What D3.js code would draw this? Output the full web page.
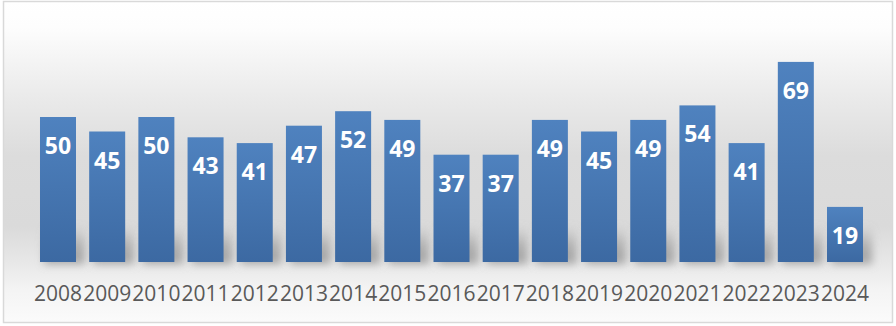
<!DOCTYPE html>
<html>
<head>
<meta charset="utf-8">
<script src="https://cdn.jsdelivr.net/npm/d3@7"></script>
<style>
  html, body { margin: 0; padding: 0; background: #fff; }
  svg { display: block; }
</style>
</head>
<body>
<svg id="chart" width="896" height="326"></svg>
<script>
// Yearly counts, 2008–2024
const years = ["2008","2009","2010","2011","2012","2013","2014","2015","2016",
               "2017","2018","2019","2020","2021","2022","2023","2024"];
const counts = [50, 45, 50, 43, 41, 47, 52, 49, 37, 37, 49, 45, 49, 54, 41, 69, 19];

const W = 896, H = 326;
const svg = d3.select("#chart");
const defs = svg.append("defs");

// Chart area background: white at top, soft grey band, fading to white at the bottom
const bg = defs.append("linearGradient")
  .attr("id", "bgGrad").attr("x1", 0).attr("y1", 0).attr("x2", 0).attr("y2", 1);
[[0, "#ffffff"], [0.08, "#fdfdfd"], [0.3, "#eaeaea"], [0.48, "#dcdcdc"],
 [0.7, "#dadada"], [0.8, "#e6e6e6"], [0.9, "#f4f4f4"], [1, "#fbfbfb"]]
  .forEach(([o, c]) => bg.append("stop").attr("offset", o).attr("stop-color", c));

// Bar fill: lighter blue on top, deeper blue at the base
const barGrad = defs.append("linearGradient")
  .attr("id", "barGrad").attr("x1", 0).attr("y1", 0).attr("x2", 0).attr("y2", 1);
barGrad.append("stop").attr("offset", 0).attr("stop-color", "#4f82bf");
barGrad.append("stop").attr("offset", 1).attr("stop-color", "#3c69a2");

// Soft shadow near the foot of each bar
const blur = defs.append("filter").attr("id", "soft")
  .attr("x", "-50%").attr("y", "-50%").attr("width", "200%").attr("height", "200%");
blur.append("feGaussianBlur").attr("stdDeviation", 4);

const shGrad = defs.append("linearGradient")
  .attr("id", "shGrad").attr("x1", 0).attr("y1", 0).attr("x2", 0).attr("y2", 1);
shGrad.append("stop").attr("offset", 0).attr("stop-color", "#8c8c8c").attr("stop-opacity", 0);
shGrad.append("stop").attr("offset", 0.55).attr("stop-color", "#8c8c8c").attr("stop-opacity", 0.6);
shGrad.append("stop").attr("offset", 1).attr("stop-color", "#8c8c8c").attr("stop-opacity", 0.75);

// Frame
svg.append("rect")
  .attr("x", 3.5).attr("y", 1.5).attr("width", 889).attr("height", 321)
  .attr("fill", "url(#bgGrad)")
  .attr("stroke", "#d9d9d9").attr("stroke-width", 1.5);

// Scales
const baseline = 262;
const x = d3.scaleBand().domain(years).range([33.4, 869.6]).paddingInner(0.268).paddingOuter(0.134);
const y = d3.scaleLinear().domain([0, 80]).range([baseline, baseline - 232]);

const data = years.map((yr, i) => ({ year: yr, value: counts[i] }));

// Shadows
svg.append("g").selectAll("rect").data(data).join("rect")
  .attr("x", d => x(d.year) + 4)
  .attr("y", d => Math.max(y(d.value), baseline - 36))
  .attr("width", x.bandwidth() + 5)
  .attr("height", d => baseline - Math.max(y(d.value), baseline - 36) + 2)
  .attr("fill", "url(#shGrad)")
  .attr("filter", "url(#soft)");

// Bars
svg.append("g").selectAll("rect").data(data).join("rect")
  .attr("x", d => x(d.year))
  .attr("y", d => y(d.value))
  .attr("width", x.bandwidth())
  .attr("height", d => baseline - y(d.value))
  .attr("fill", "url(#barGrad)");

// Value labels inside the top of each bar
svg.append("g").selectAll("text").data(data).join("text")
  .attr("x", d => x(d.year) + x.bandwidth() / 2)
  .attr("y", d => y(d.value) + 37)
  .attr("text-anchor", "middle")
  .attr("font-family", "'Open Sans', sans-serif")
  .attr("font-weight", 700)
  .attr("font-size", 23)
  .attr("fill", "#ffffff")
  .text(d => d.value);

// Category axis (labels only)
const axis = svg.append("g")
  .attr("transform", `translate(0,${baseline})`)
  .call(d3.axisBottom(x).tickSize(0).tickPadding(0));
axis.select(".domain").remove();
axis.selectAll("text")
  .attr("y", 39)
  .attr("dy", 0)
  .attr("font-family", "'Open Sans', sans-serif")
  .attr("font-size", 21)
  .attr("fill", "#595959");
</script>
</body>
</html>
